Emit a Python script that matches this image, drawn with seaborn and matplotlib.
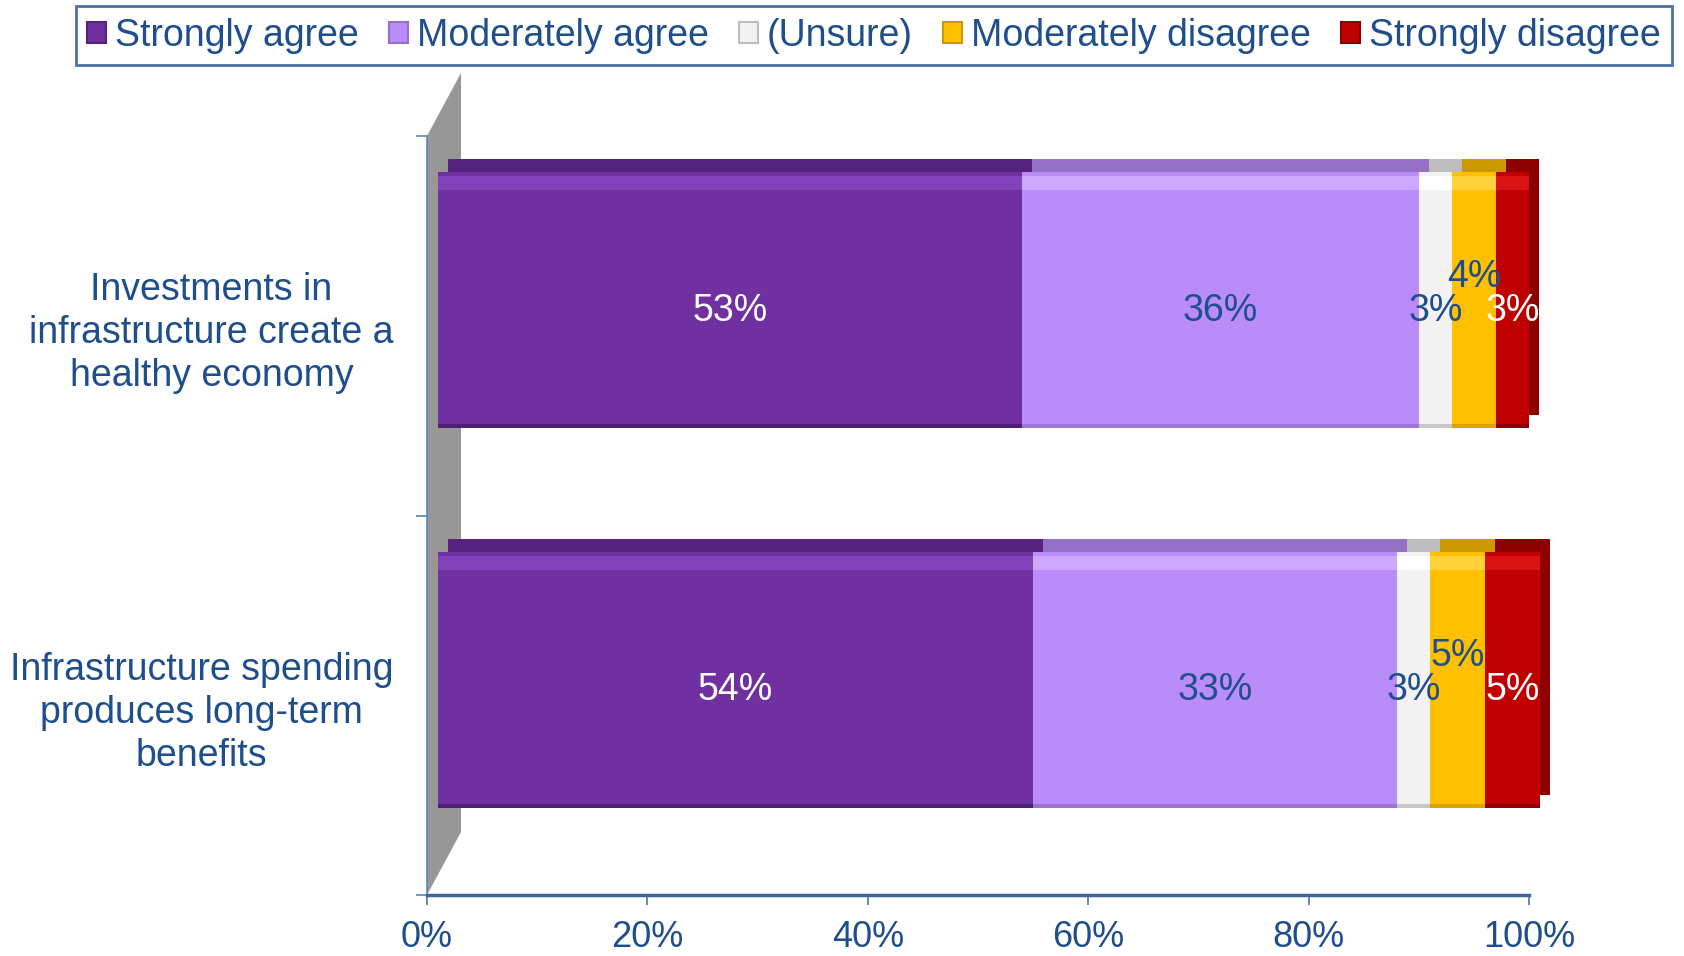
import numpy as np
import pandas as pd
import matplotlib
matplotlib.use("Agg")
import matplotlib.pyplot as plt
import matplotlib.transforms as mtransforms
from matplotlib.patches import Patch, Polygon
import seaborn as sns

# ---------------- data ----------------
categories = ["Investments in\ninfrastructure create a\nhealthy economy",
              "Infrastructure spending\nproduces long-term\nbenefits"]
series_names = ["Strongly agree", "Moderately agree", "(Unsure)",
                "Moderately disagree", "Strongly disagree"]
strongly_agree = [53, 54]
moderately_agree = [36, 33]
unsure = [3, 3]
moderately_disagree = [4, 5]
strongly_disagree = [3, 5]
x_ticks = [0, 20, 40, 60, 80, 100]
x_tick_labels = ["0%", "20%", "40%", "60%", "80%", "100%"]

series_values = [strongly_agree, moderately_agree, unsure,
                 moderately_disagree, strongly_disagree]

# ---------------- style ----------------
front_colors = ["#7030A0", "#BA8CFA", "#F2F2F2", "#FFC000", "#C00000"]
top_colors = ["#55237E", "#9470C6", "#BDBDBD", "#CC9900", "#8E0000"]
light_colors = ["#8242BA", "#CDA8FF", "#FFFFFF", "#FFD23C", "#DA1414"]
shade_colors = ["#4E1F75", "#9C74D6", "#C8C8C8", "#D9A300", "#8E0000"]
label_colors = ["white", "#1F4E8C", "#1F4E8C", "#1F4E8C", "white"]
label_nudge_px = [0, 0, 0, 34, 0]
BLUE = "#1F4E8C"
FS = 27

sns.set_theme(style="white")
plt.rcParams["font.family"] = ["Liberation Sans", "DejaVu Sans"]

DPI = 100
fig = plt.figure(figsize=(16.84, 9.56), dpi=DPI)
ax = fig.add_axes([427 / 1684, 61 / 956, 1102 / 1684, 759 / 956])

BAR_W = 0.675
BAND_PX = 379.5
front_off = mtransforms.ScaledTranslation(11 / DPI, 25.5 / DPI, fig.dpi_scale_trans)
back_off = mtransforms.ScaledTranslation(21 / DPI, 38.5 / DPI, fig.dpi_scale_trans)
hl_off = mtransforms.ScaledTranslation(11 / DPI, (25.5 + 117) / DPI, fig.dpi_scale_trans)
sh_off = mtransforms.ScaledTranslation(11 / DPI, (25.5 - 126) / DPI, fig.dpi_scale_trans)

cum = np.cumsum(np.array(series_values), axis=0)  # shape (5, 2)
df_base = pd.DataFrame({"cat": categories})


def layer(values, color, width, offset, z):
    n0 = len(ax.patches)
    d = df_base.copy()
    d["v"] = values
    sns.barplot(data=d, x="v", y="cat", orient="h", color=color, width=width,
                saturation=1, linewidth=0, ax=ax, zorder=z)
    for p in ax.patches[n0:]:
        p.set_transform(ax.transData + offset)
        p.set_zorder(z)
        p.set_clip_on(False)


# back (top face / side) layer: largest cumulative first
for i in range(4, -1, -1):
    layer(cum[i], top_colors[i], BAR_W, back_off, 2)
# front faces
for i in range(4, -1, -1):
    layer(cum[i], front_colors[i], BAR_W, front_off, 3)
# highlight strip near top of front face
for i in range(4, -1, -1):
    layer(cum[i], light_colors[i], 14 / BAND_PX, hl_off, 4)
# darker strip at bottom of front face
for i in range(4, -1, -1):
    layer(cum[i], shade_colors[i], 4 / BAND_PX, sh_off, 4)

# 3-D side wall
wx = 34 / 1102
wy = 63 / 759
wall = Polygon([(0, 0), (0, 1), (wx, 1 + wy), (wx, wy)], closed=True,
               transform=ax.transAxes, facecolor="#979797", edgecolor="none",
               clip_on=False, zorder=1)
ax.add_patch(wall)

# value labels
for i, vals in enumerate(series_values):
    starts = cum[i] - np.array(vals)
    off = mtransforms.ScaledTranslation(11 / DPI, (15 + label_nudge_px[i]) / DPI,
                                        fig.dpi_scale_trans)
    for j, v in enumerate(vals):
        ax.text(starts[j] + v / 2, j, f"{v}%", transform=ax.transData + off,
                ha="center", va="center", fontsize=FS, color=label_colors[i],
                zorder=6)

# axes
ax.set_xlim(0, 100)
ax.set_ylim(1.5, -0.5)
ax.set_xlabel("")
ax.set_ylabel("")
ax.set_xticks(x_ticks)
ax.set_xticklabels(x_tick_labels)
ax.set_yticks([0, 1])
ax.set_yticklabels(categories, ha="right", multialignment="center",
                   linespacing=1.25)
ax.set_yticks([-0.5, 0.5, 1.5], minor=True)
ax.tick_params(axis="x", which="major", direction="out", length=7, width=1.2,
               color="#4A74A8", labelsize=26, labelcolor=BLUE, pad=11, bottom=True)
ax.tick_params(axis="y", which="major", length=0, labelsize=FS, labelcolor=BLUE,
               pad=24, left=True)
ax.tick_params(axis="y", which="minor", direction="out", length=8, width=1.2,
               color="#5B86B9", left=True)
for s in ["top", "right"]:
    ax.spines[s].set_visible(False)
ax.spines["bottom"].set_color("#3E6696")
ax.spines["bottom"].set_linewidth(2.5)
ax.spines["left"].set_color("#5B86B9")
ax.spines["left"].set_linewidth(1.2)
ax.patch.set_alpha(0)

# legend
handles = [Patch(facecolor=front_colors[i], edgecolor=top_colors[i], linewidth=1.5)
           for i in range(5)]
leg = fig.legend(handles, series_names, loc="center", ncol=5,
                 bbox_to_anchor=(874 / 1684, 1 - 35.5 / 956),
                 fontsize=FS, frameon=True, fancybox=False,
                 handlelength=0.5, handleheight=0.5, handletextpad=0.25,
                 columnspacing=0.8, borderpad=0.3, labelcolor=BLUE)
leg.get_frame().set_edgecolor(BLUE)
leg.get_frame().set_linewidth(2)

fig.savefig("out.png", dpi=DPI)
